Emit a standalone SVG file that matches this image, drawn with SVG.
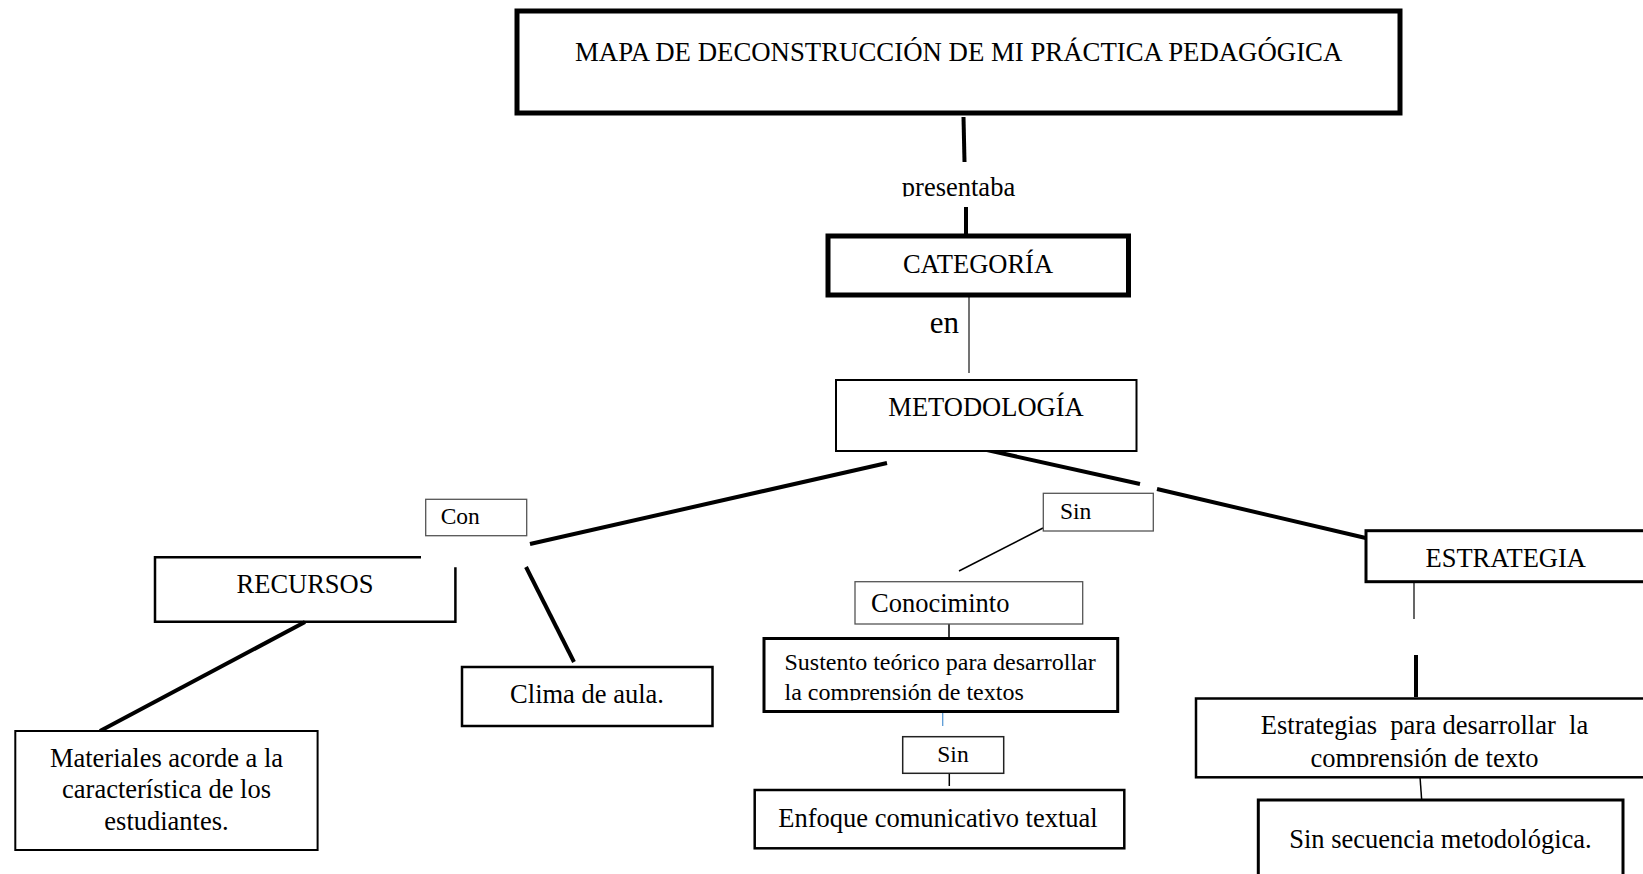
<svg xmlns="http://www.w3.org/2000/svg" width="1643" height="874" viewBox="0 0 1643 874">
<style>
  text { font-family: "Liberation Serif", "Times New Roman", serif; fill: #000; }
  .t { font-size: 26.5px; }
  .s { font-size: 23.5px; }
  .m { text-anchor: middle; }
  .box { fill: #fff; stroke: #000; }
  .thin { fill: #fff; stroke: #555; stroke-width: 1.3; }
  .c line { stroke: #000; stroke-linecap: butt; }
  .k { stroke-width: 4; }
  .f { stroke-width: 1.5; }
</style>
<defs>
  <clipPath id="clipPres"><rect x="880" y="160" width="160" height="36.5"/></clipPath>
  <clipPath id="clipSust"><rect x="766" y="640" width="350" height="60.5"/></clipPath>
  <clipPath id="clipEstr"><rect x="1198" y="700" width="445" height="67"/></clipPath>
</defs>
<rect width="1643" height="874" fill="#fff"/>

<g id="connectors" class="c">
  <line class="k" x1="963.5" y1="117" x2="964.5" y2="162"/>
  <line class="k" x1="966" y1="207" x2="966" y2="234"/>
  <line class="f" x1="969" y1="296" x2="969" y2="373" style="stroke:#444"/>
  <line class="k" x1="887" y1="463" x2="530" y2="544"/>
  <line class="k" x1="987" y1="450" x2="1140" y2="484"/>
  <line class="k" x1="1157" y1="489" x2="1370" y2="539"/>
  <line class="k" x1="526" y1="567" x2="574" y2="662"/>
  <line class="k" x1="305" y1="622" x2="100" y2="731"/>
  <line class="f" x1="1043" y1="528" x2="959" y2="571"/>
  <line class="f" x1="949" y1="617" x2="949" y2="638.5"/>
  <line x1="942.7" y1="712" x2="942.7" y2="726" style="stroke:#5B9BD5;stroke-width:1.3"/>
  <line class="f" x1="949.3" y1="769" x2="949.3" y2="786"/>
  <line x1="1414" y1="582" x2="1414" y2="619" style="stroke-width:1.2"/>
  <line class="k" x1="1416" y1="655" x2="1416" y2="697"/>
  <line class="f" x1="1420" y1="777" x2="1421.7" y2="800"/>
</g>

<g id="title">
  <rect class="box" x="517" y="11" width="883" height="102" stroke-width="5"/>
  <text class="m" x="958.7" y="61" style="font-size:26.8px">MAPA DE DECONSTRUCCIÓN DE MI PRÁCTICA PEDAGÓGICA</text>
</g>

<g id="label-presentaba">
  <text class="t m" x="958.5" y="196" clip-path="url(#clipPres)">presentaba</text>
</g>

<g id="categoria">
  <rect class="box" x="828" y="236" width="300.5" height="59" stroke-width="5"/>
  <text class="t m" x="978" y="272.5">CATEGORÍA</text>
</g>

<g id="label-en">
  <text x="944.5" y="333" style="font-size:31px" class="m">en</text>
</g>

<g id="metodologia">
  <rect class="box" x="836" y="380" width="300.5" height="71" stroke-width="2"/>
  <text class="t m" x="986" y="415.7">METODOLOGÍA</text>
</g>

<g id="con">
  <rect class="thin" x="425.7" y="499.3" width="101" height="36.4"/>
  <text class="s" x="440.7" y="524.3">Con</text>
</g>

<g id="recursos">
  <path d="M421,557.3 H155 V621.7 H455.4 V567.3" fill="none" stroke="#000" stroke-width="2.5"/>
  <text class="t m" x="305" y="592.7">RECURSOS</text>
</g>

<g id="clima">
  <rect class="box" x="462" y="667" width="250.5" height="59" stroke-width="2.5"/>
  <text class="t m" x="587" y="703.3">Clima de aula.</text>
</g>

<g id="materiales">
  <rect class="box" x="15.3" y="731" width="302.3" height="119" stroke-width="2"/>
  <text class="t m" x="166.5" y="766.7">Materiales acorde a la</text>
  <text class="t m" x="166.5" y="798.3">característica de los</text>
  <text class="t m" x="166.5" y="830">estudiantes.</text>
</g>

<g id="sin1">
  <rect class="thin" x="1043.3" y="493.3" width="110" height="37.7"/>
  <text class="s" x="1060" y="519">Sin</text>
</g>

<g id="conociminto">
  <rect class="thin" x="855" y="581.7" width="227.7" height="42.3"/>
  <text class="t" x="871" y="612.3">Conociminto</text>
</g>

<g id="sustento">
  <rect class="box" x="764" y="638.5" width="353.7" height="73" stroke-width="3"/>
  <g clip-path="url(#clipSust)">
    <text x="784.5" y="670" style="font-size:24px">Sustento teórico para desarrollar</text>
    <text x="784.5" y="700" style="font-size:24px">la comprensión de textos</text>
  </g>
</g>

<g id="sin2">
  <rect class="box" x="902.7" y="736.7" width="101" height="36.6" stroke-width="1.5" style="stroke:#222"/>
  <text class="s" x="937.3" y="762.3">Sin</text>
</g>

<g id="enfoque">
  <rect class="box" x="754.7" y="790" width="369.6" height="58.3" stroke-width="2.5"/>
  <text class="t m" x="938" y="826.7">Enfoque comunicativo textual</text>
</g>

<g id="estrategia">
  <rect class="box" x="1366" y="530.7" width="300" height="51" stroke-width="3"/>
  <text class="t m" x="1505.7" y="566.7">ESTRATEGIA</text>
</g>

<g id="estrategias">
  <rect class="box" x="1196" y="698.5" width="470" height="78.8" stroke-width="2.5"/>
  <g clip-path="url(#clipEstr)">
    <text class="t m" x="1424.5" y="733.5" xml:space="preserve">Estrategias  para desarrollar  la</text>
    <text class="t m" x="1424.5" y="767">comprensión de texto</text>
  </g>
</g>

<g id="sin-secuencia">
  <rect class="box" x="1258.3" y="800" width="364.7" height="90" stroke-width="3"/>
  <text class="t m" x="1440.5" y="848.3">Sin secuencia metodológica.</text>
</g>
</svg>
